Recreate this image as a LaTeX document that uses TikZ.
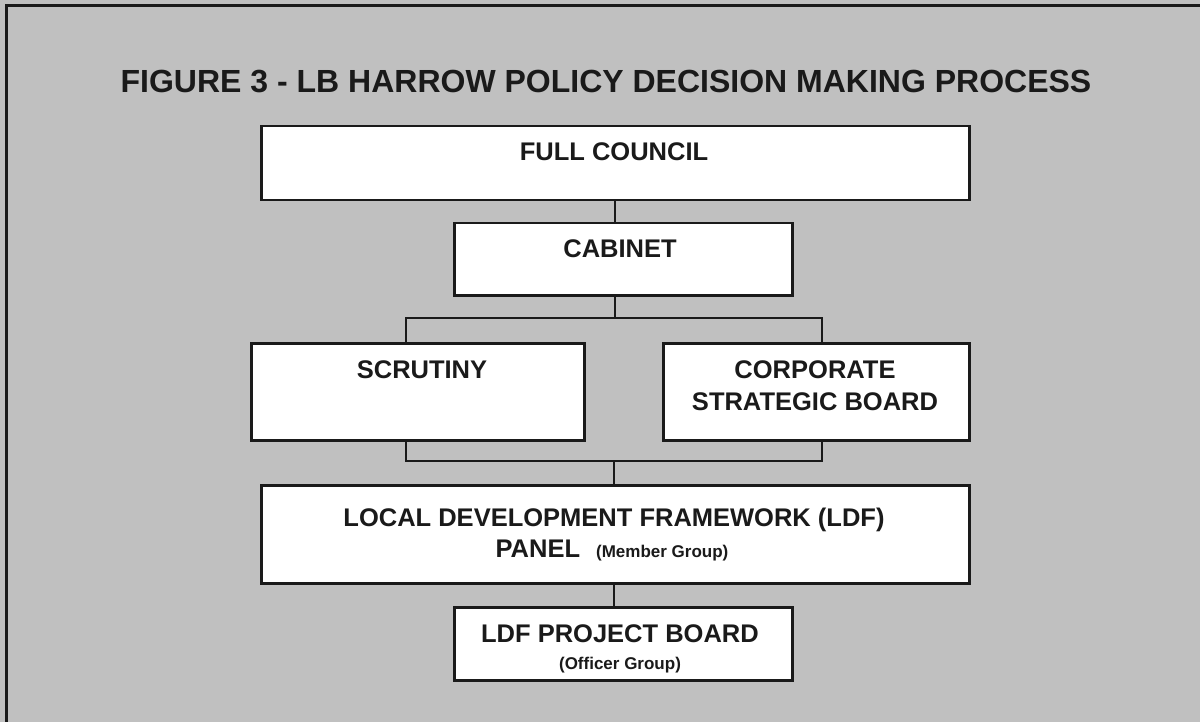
\documentclass[tikz,border=0pt]{standalone}
\usepackage{fontspec}
\setmainfont{Liberation Sans}
\usetikzlibrary{calc}
\definecolor{bg}{HTML}{C0C0C0}
\definecolor{ink}{HTML}{1A1A1A}
\begin{document}
\begin{tikzpicture}[x=1pt,y=-1pt,
  box/.style={draw=ink, line width=2.5pt, fill=white, inner sep=0pt, anchor=north west},
  conn/.style={draw=ink, line width=2pt},
  lbl/.style={font=\bfseries\fontsize{25.5}{30}\selectfont, text=ink, inner sep=0pt, anchor=base},
  sub/.style={font=\bfseries\fontsize{17}{21}\selectfont, text=ink, inner sep=0pt, anchor=base},
  ttl/.style={font=\bfseries\fontsize{32}{38}\selectfont, text=ink, inner sep=0pt, anchor=base}]
\path[fill=bg] (0,0) rectangle (1200,722);
\useasboundingbox (0,0) rectangle (1200,722);
\draw[ink, line width=3pt] (6,740) -- (6,6) -- (1220,6);
\node[ttl] (title) at (606,93) {FIGURE 3 - LB HARROW POLICY DECISION MAKING PROCESS};
% boxes
\node[box, minimum width=708pt, minimum height=74pt] (fc) at (260,125) {};
\node[box, minimum width=338pt, minimum height=72pt] (cab) at (453,222) {};
\node[box, minimum width=333pt, minimum height=97pt] (scr) at (250,342) {};
\node[box, minimum width=306pt, minimum height=97pt] (csb) at (662,342) {};
\node[box, minimum width=708pt, minimum height=98pt] (ldf) at (260,484) {};
\node[box, minimum width=338pt, minimum height=73pt] (pb) at (453,606) {};
% labels
\node[lbl] (fct) at (614,161) {FULL COUNCIL};
\node[lbl] (cabt) at (620,258) {CABINET};
\node[lbl] (scrt) at (422,378) {SCRUTINY};
\node[lbl] (csbt1) at (815,378) {CORPORATE};
\node[lbl] (csbt2) at (815,410) {STRATEGIC BOARD};
\node[lbl] (ldft1) at (614,526) {LOCAL DEVELOPMENT FRAMEWORK (LDF)};
\node[lbl] (ldft2) at (612,557) {PANEL\hspace{16pt}{\fontsize{17}{20}\selectfont (Member Group)}};
\node[lbl] (pbt1) at (620,642) {LDF PROJECT BOARD};
\node[sub] (pbt2) at (620,669) {(Officer Group)};
% connectors
\coordinate (jl) at (406,318);
\coordinate (jr) at (822,318);
\coordinate (kl) at (406,461);
\coordinate (kr) at (822,461);
\coordinate (k) at (614,461);
\draw[conn] (fc.south) -- (fc.south |- cab.north);
\draw[conn] (fc.south |- cab.south) -- (fc.south |- jl);
\draw[conn] (scr.north -| jl) -- (jl) -- (jr) -- (csb.north -| jr);
\draw[conn] (scr.south -| kl) -- (kl) -- (kr) -- (csb.south -| kr);
\draw[conn] (k) -- (ldf.north -| k);
\draw[conn] (ldf.south -| k) -- (pb.north -| k);
\end{tikzpicture}
\end{document}
